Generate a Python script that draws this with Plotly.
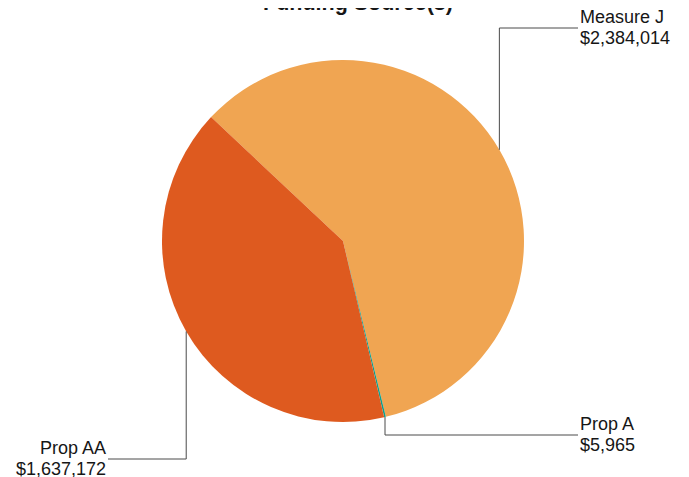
import math

import plotly.graph_objects as go

labels = ["Measure J", "Prop A", "Prop AA"]
values = [2384014, 5965, 1637172]
colors = ["#F0A552", "#109E8A", "#DE5A1F"]
title = "Funding Source(s)"

W, H = 689, 477
OFF = 8  # page body margin: screen px = figure px + 8
CX, CY, R = 343 - OFF, 241 - OFF, 181
START = -46.8  # first slice starts here, clockwise from 12 o'clock

# where each callout ends (px): x of the text edge, y of the elbow line
label_x = [578 - OFF, 578 - OFF, 108 - OFF]
label_y = [28 - OFF, 435 - OFF, 459 - OFF]

FONT = "Liberation Sans, Arial, sans-serif"
TEXT_COLOR = "#161616"


def px(x, y):
    return x / W, 1 - y / H


fig = go.Figure(
    go.Pie(
        labels=labels,
        values=values,
        marker={"colors": colors, "line": {"width": 0}},
        sort=False,
        direction="clockwise",
        rotation=START,
        textinfo="none",
        hoverinfo="label+value",
        showlegend=False,
        domain={
            "x": [(CX - R) / W, (CX + R) / W],
            "y": [1 - (CY + R) / H, 1 - (CY - R) / H],
        },
    )
)

total = sum(values)
shapes = []
annotations = []
cum = 0
for lab, val, lx, ly in zip(labels, values, label_x, label_y):
    mid = math.radians(START + (cum + val / 2) / total * 360)
    cum += val
    ax = CX + R * math.sin(mid)
    ay = CY - R * math.cos(mid)
    p0, p1, p2 = px(ax, ay), px(ax, ly), px(lx, ly)
    shapes.append(
        {
            "type": "path",
            "xref": "paper",
            "yref": "paper",
            "path": f"M {p0[0]},{p0[1]} L {p1[0]},{p1[1]} L {p2[0]},{p2[1]}",
            "line": {"color": "#4a4a4a", "width": 1},
        }
    )
    right = lx > CX
    # label above the elbow line, amount below it
    for text, shift in ((lab, 11), (f"${val:,}", -10)):
        annotations.append(
            {
                "text": text,
                "x": p2[0],
                "y": p2[1],
                "xref": "paper",
                "yref": "paper",
                "xanchor": "left" if right else "right",
                "yanchor": "middle",
                "yshift": shift,
                "showarrow": False,
                "font": {"family": FONT, "size": 18, "color": TEXT_COLOR},
            }
        )

annotations.append(
    {
        "text": f"<b>{title}</b>",
        "x": (357.5 - OFF) / W,
        "y": 1,
        "xref": "paper",
        "yref": "paper",
        "xanchor": "center",
        "yanchor": "middle",
        "yshift": 5,
        "showarrow": False,
        "font": {"family": FONT, "size": 21.5, "color": TEXT_COLOR},
    }
)

fig.update_layout(
    width=W,
    height=H,
    margin={"t": 0, "r": 0, "b": 0, "l": 0},
    paper_bgcolor="white",
    plot_bgcolor="white",
    shapes=shapes,
    annotations=annotations,
)

fig.write_html("out.html")
